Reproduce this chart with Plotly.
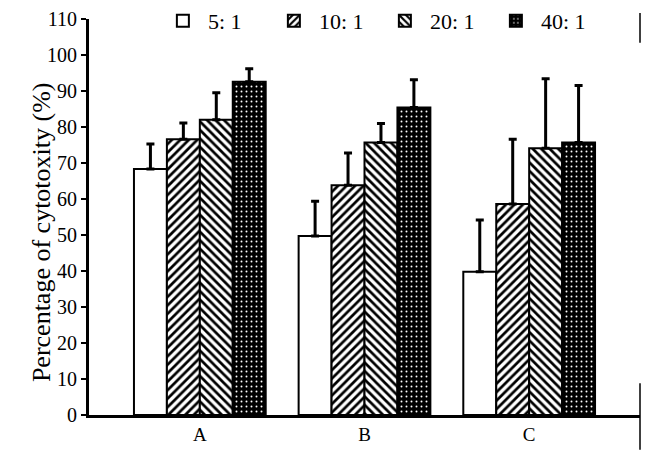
import plotly.graph_objects as go

categories = ["A", "B", "C"]
series_names = ["5: 1", "10: 1", "20: 1", "40: 1"]
values_5 = [68.3, 49.7, 39.8]
values_10 = [76.6, 63.8, 58.6]
values_20 = [82.0, 75.7, 74.1]
values_40 = [92.6, 85.4, 75.7]
err_5 = [7.0, 9.7, 14.4]
err_10 = [4.5, 9.0, 18.0]
err_20 = [7.5, 5.3, 19.3]
err_40 = [3.6, 7.7, 15.8]
y_ticks = [0, 10, 20, 30, 40, 50, 60, 70, 80, 90, 100, 110]

all_vals = [values_5, values_10, values_20, values_40]
all_errs = [err_5, err_10, err_20, err_40]
patterns = [
    dict(shape=""),
    dict(shape="/", fgcolor="black", bgcolor="white", size=6, solidity=0.45, fillmode="replace"),
    dict(shape="\\", fgcolor="black", bgcolor="white", size=6, solidity=0.45, fillmode="replace"),
    dict(shape=".", fgcolor="white", bgcolor="black", size=5, solidity=0.12, fillmode="replace"),
]

FONT = "'Times New Roman', 'Liberation Serif', 'DejaVu Serif', serif"
fig = go.Figure()
for name, vals, errs, pat in zip(series_names, all_vals, all_errs, patterns):
    fig.add_trace(go.Bar(
        x=categories, y=vals, name=name,
        marker=dict(color="white", line=dict(color="black", width=2), pattern=pat),
        error_y=dict(type="data", symmetric=False, array=errs,
                     arrayminus=[0] * len(errs), color="black", thickness=3, width=4),
    ))

fig.update_layout(
    width=644, height=455,
    margin=dict(l=81, r=12, t=11, b=48, autoexpand=False),
    paper_bgcolor="white", plot_bgcolor="white",
    barmode="group", bargap=0.2, bargroupgap=0,
    font=dict(family=FONT, color="black"),
    showlegend=True,
    legend=dict(orientation="h", x=0.125, y=0.995, xanchor="left", yanchor="middle",
                font=dict(family=FONT, size=22, color="black"),
                bgcolor="rgba(0,0,0,0)", itemwidth=40, entrywidth=56,
                tracegroupgap=0),
    xaxis=dict(range=[-0.673, 2.673], showline=True, linecolor="black", linewidth=3,
               ticks="", tickfont=dict(family=FONT, size=19, color="black"),
               showgrid=False, zeroline=False),
    yaxis=dict(range=[0, 110], tickvals=y_ticks, showline=True, linecolor="black",
               linewidth=3, ticks="outside", ticklen=5, tickwidth=2, tickcolor="black",
               tickfont=dict(family=FONT, size=20, color="black"),
               showgrid=False, zeroline=False),
    annotations=[dict(text="Percentage of cytotoxity (%)", textangle=-90,
                      xref="paper", yref="paper", x=-0.087, y=0.462,
                      xanchor="center", yanchor="middle", showarrow=False,
                      font=dict(family=FONT, size=26, color="black"))],
    shapes=[
        dict(type="line", xref="paper", yref="paper", x0=1, x1=1, y0=0.08, y1=-0.088,
             line=dict(color="black", width=1.5)),
        dict(type="line", xref="paper", yref="paper", x0=1, x1=1, y0=1.015, y1=0.94,
             line=dict(color="black", width=1.5)),
    ],
)

fig.write_html("out.html")
